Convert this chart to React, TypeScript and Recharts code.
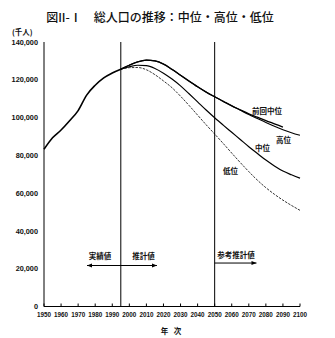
import { LineChart, Line, XAxis, YAxis, ReferenceLine, ReferenceDot } from "recharts"

// 千人
const actualYears = [1950, 1955, 1960, 1965, 1970, 1975, 1980, 1985, 1990, 1995]
const actualPop = [83200, 89300, 93400, 98300, 103700, 111900, 117100, 121000, 123600, 125600]

const projYears = [
  1995, 2000, 2005, 2010, 2015, 2020, 2025, 2030, 2035, 2040, 2045,
  2050, 2055, 2060, 2065, 2070, 2075, 2080, 2085, 2090, 2095, 2100,
]
const highPop = [
  125600, 127700, 129500, 130400, 130000, 128300, 125500, 122400, 119300, 116300, 113500,
  111000, 108600, 106200, 103900, 101600, 99500, 97400, 95400, 93600, 92000, 90600,
]
const medPop = [
  125600, 126900, 127700, 127500, 126000, 123500, 120400, 116800, 112600, 108300, 104000,
  99900, 96000, 92200, 88400, 84600, 81000, 77500, 74400, 71700, 69700, 67900,
]
const lowPop = [
  125600, 126400, 126500, 125300, 122700, 119400, 115800, 111300, 106400, 101300, 96200,
  91300, 86300, 81200, 76200, 71400, 66900, 62900, 59400, 56300, 53500, 50900,
]
// 前回推計（中位）, ends in 2090
const prevMedPop = [
  125600, 127700, 129500, 130400, 130000, 128300, 125500, 122400, 119300, 116300, 113500,
  111000, 108600, 106200, 104100, 102000, 100200, 98400, 96700, 95000,
]

const xTicks = [1950, 1960, 1970, 1980, 1990, 2000, 2010, 2020, 2030, 2040, 2050, 2060, 2070, 2080, 2090, 2100]
const yTicks = [0, 20000, 40000, 60000, 80000, 100000, 120000, 140000]

type Row = { year: number; actual?: number; high?: number; med?: number; low?: number; prev?: number }

const rowMap = new Map<number, Row>()
const rowFor = (y: number) => {
  if (!rowMap.has(y)) rowMap.set(y, { year: y })
  return rowMap.get(y)!
}
actualYears.forEach((y, i) => (rowFor(y).actual = actualPop[i]))
projYears.forEach((y, i) => {
  const r = rowFor(y)
  r.high = highPop[i]
  r.med = medPop[i]
  r.low = lowPop[i]
  if (i < prevMedPop.length) r.prev = prevMedPop[i]
})
const data = [...rowMap.values()].sort((a, b) => a.year - b.year)

const jp = '"Noto Sans CJK JP", "Noto Sans", sans-serif'
const num = '"Liberation Sans", Arial, sans-serif'

const seriesLabels = [
  { text: "前回中位", x: 2080.7, y: 103500 },
  { text: "高位", x: 2090.3, y: 88500 },
  { text: "中位", x: 2078, y: 84000 },
  { text: "低位", x: 2059.3, y: 72100 },
  { text: "実績値", x: 1982.8, y: 27000 },
  { text: "推計値", x: 2008.3, y: 27000 },
  { text: "参考推計値", x: 2062.5, y: 27600 },
]

const arrowShape = (both: boolean) => (p: any) => {
  const { x1, y1, x2, y2 } = p
  const h = 5
  const w = 2
  return (
    <g>
      <line x1={x1} y1={y1} x2={x2} y2={y2} stroke="#000" strokeWidth={1} />
      <polygon points={`${x2},${y2} ${x2 - h},${y2 - w} ${x2 - h},${y2 + w}`} fill="#000" />
      {both && <polygon points={`${x1},${y1} ${x1 + h},${y1 - w} ${x1 + h},${y1 + w}`} fill="#000" />}
    </g>
  )
}

const textLabel = (text: string) => (p: any) => {
  const { viewBox } = p
  return (
    <text
      x={viewBox.x + viewBox.width / 2}
      y={viewBox.y + viewBox.height / 2}
      textAnchor="middle"
      dominantBaseline="central"
      fontFamily={jp}
      fontWeight={700}
      fontSize={7.5}
      fill="#111"
    >
      {text}
    </text>
  )
}

export default function App() {
  return (
    <div style={{ position: "absolute", left: 0, top: 0, width: 335, height: 338, background: "#fff" }}>
      <div
        style={{
          position: "absolute",
          left: 0,
          width: 320,
          top: 8,
          textAlign: "center",
          fontFamily: jp,
          fontSize: 12,
          fontWeight: 500,
          lineHeight: "18px",
          color: "#111",
        }}
      >
        図II-Ⅰ　総人口の推移：中位・高位・低位
      </div>
      <div
        style={{
          position: "absolute",
          left: 12,
          top: 27,
          fontFamily: jp,
          fontSize: 7.5,
          fontWeight: 700,
          lineHeight: "10px",
          color: "#111",
        }}
      >
        (千人)
      </div>
      <div
        style={{
          position: "absolute",
          left: 152,
          width: 40,
          top: 326,
          textAlign: "center",
          fontFamily: jp,
          fontSize: 7.5,
          fontWeight: 700,
          lineHeight: "10px",
          letterSpacing: 2,
          color: "#111",
        }}
      >
        年 次
      </div>
      <LineChart
        width={335}
        height={338}
        data={data}
        margin={{ top: 42, right: 35, bottom: 11.5, left: 0 }}
      >
        <XAxis
          dataKey="year"
          type="number"
          domain={[1950, 2100]}
          ticks={xTicks}
          interval={0}
          height={20}
          stroke="#000"
          tickSize={-3}
          tickMargin={9}
          tick={{ fontSize: 6.3, fontFamily: num, fontWeight: 700, fill: "#111" }}
        />
        <XAxis xAxisId="top" orientation="top" dataKey="year" type="number" domain={[1950, 2100]} height={0} tick={false} tickLine={false} stroke="#999" />
        <YAxis
          domain={[0, 140000]}
          ticks={yTicks}
          interval={0}
          width={44}
          stroke="#000"
          tickSize={0}
          tickMargin={6}
          tickFormatter={(v: number) => v.toLocaleString("en-US")}
          tick={{ fontSize: 7.3, fontFamily: num, fontWeight: 700, fill: "#111" }}
        />
        <YAxis yAxisId="right" orientation="right" width={0} tick={false} tickLine={false} stroke="#777" />
        <ReferenceLine x={1995} stroke="#000" strokeWidth={1} />
        <ReferenceLine x={2050} stroke="#000" strokeWidth={1} />
        <Line dataKey="actual" type="monotone" stroke="#000" strokeWidth={1.6} dot={false} isAnimationActive={false} />
        <Line dataKey="prev" type="monotone" stroke="#000" strokeWidth={1.3} dot={false} isAnimationActive={false} />
        <Line dataKey="high" type="monotone" stroke="#000" strokeWidth={1.1} dot={false} isAnimationActive={false} />
        <Line dataKey="med" type="monotone" stroke="#000" strokeWidth={1.2} dot={false} isAnimationActive={false} />
        <Line dataKey="low" type="monotone" stroke="#000" strokeWidth={0.8} strokeDasharray="2.5 1.2" dot={false} isAnimationActive={false} />
        <ReferenceLine segment={[{ x: 1975.2, y: 21700 }, { x: 2016.2, y: 21700 }]} shape={arrowShape(true)} />
        <ReferenceLine segment={[{ x: 2050, y: 23000 }, { x: 2074.5, y: 23000 }]} shape={arrowShape(false)} />
        {seriesLabels.map((l) => (
          <ReferenceDot key={l.text} x={l.x} y={l.y} r={0} stroke="none" fill="none" label={textLabel(l.text)} />
        ))}
      </LineChart>
    </div>
  )
}
